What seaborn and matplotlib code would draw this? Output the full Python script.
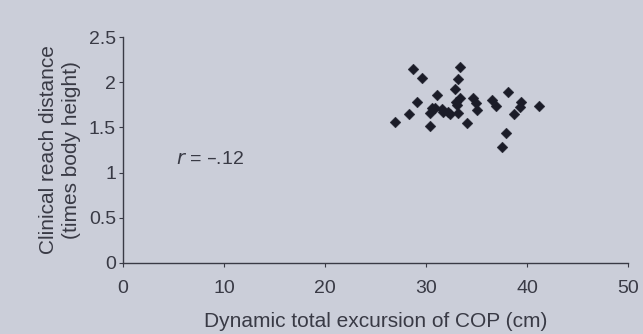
import matplotlib
matplotlib.use("Agg")
import matplotlib.pyplot as plt
import seaborn as sns
import pandas as pd

# Dynamic total excursion of COP (cm) vs clinical reach distance
excursion = [26.9, 28.3, 29.1, 28.7, 29.6, 31.1, 30.4, 30.4, 30.6, 31.6,
             32.2, 32.9, 33.4, 33.2, 33.1, 33.2, 33.4, 34.1, 34.7, 34.9,
             35.0, 36.5, 36.9, 38.1, 39.4, 39.3, 38.7, 41.2, 37.9, 37.5,
             31.7, 32.4, 33.0, 30.9]
reach = [1.56, 1.65, 1.78, 2.15, 2.05, 1.86, 1.52, 1.66, 1.72, 1.70,
         1.67, 1.92, 2.17, 2.04, 1.75, 1.66, 1.83, 1.55, 1.83, 1.77,
         1.69, 1.80, 1.74, 1.89, 1.78, 1.73, 1.65, 1.74, 1.44, 1.28,
         1.67, 1.65, 1.78, 1.71]

x_ticks = [0, 10, 20, 30, 40, 50]
y_ticks = [0, 0.5, 1, 1.5, 2, 2.5]
y_tick_labels = ["0", "0.5", "1", "1.5", "2", "2.5"]

df = pd.DataFrame({"excursion": excursion, "reach": reach})

bg = "#cbced9"
ink = "#393a45"

sns.set_theme(style="white")
plt.rcParams["font.family"] = ["Liberation Sans", "DejaVu Sans"]

fig = plt.figure(figsize=(6.43, 3.34), dpi=100, facecolor=bg)
ax = fig.add_axes([0.1913, 0.2126, 0.7854, 0.6764])
ax.set_facecolor(bg)

sns.scatterplot(data=df, x="excursion", y="reach", marker="D", s=30,
                color="#1b1c28", edgecolor="#1b1c28", linewidth=0.3, ax=ax)

ax.set_xlim(0, 50)
ax.set_ylim(0, 2.5)
ax.set_xticks(x_ticks)
ax.set_yticks(y_ticks)
ax.set_yticklabels(y_tick_labels)

for side in ("top", "right"):
    ax.spines[side].set_visible(False)
for side in ("left", "bottom"):
    ax.spines[side].set_color(ink)
    ax.spines[side].set_linewidth(1.0)

ax.tick_params(axis="y", direction="out", length=3, width=0.8, color=ink,
               labelsize=14, labelcolor=ink, pad=2, left=True)
ax.tick_params(axis="x", direction="out", length=3, width=0.8, color=ink,
               labelsize=14, labelcolor=ink, pad=9, bottom=True)

ax.set_xlabel("Dynamic total excursion of COP (cm)", fontsize=15, color=ink,
              labelpad=11)
ax.set_ylabel("Clinical reach distance\n(times body height)", fontsize=15,
              color=ink, labelpad=6, linespacing=1.25)

ax.text(5.2, 1.14, "$r$ = \u2013.12", fontsize=14, color=ink,
        va="center", ha="left")

fig.savefig("out.png", dpi=100, facecolor=bg)
